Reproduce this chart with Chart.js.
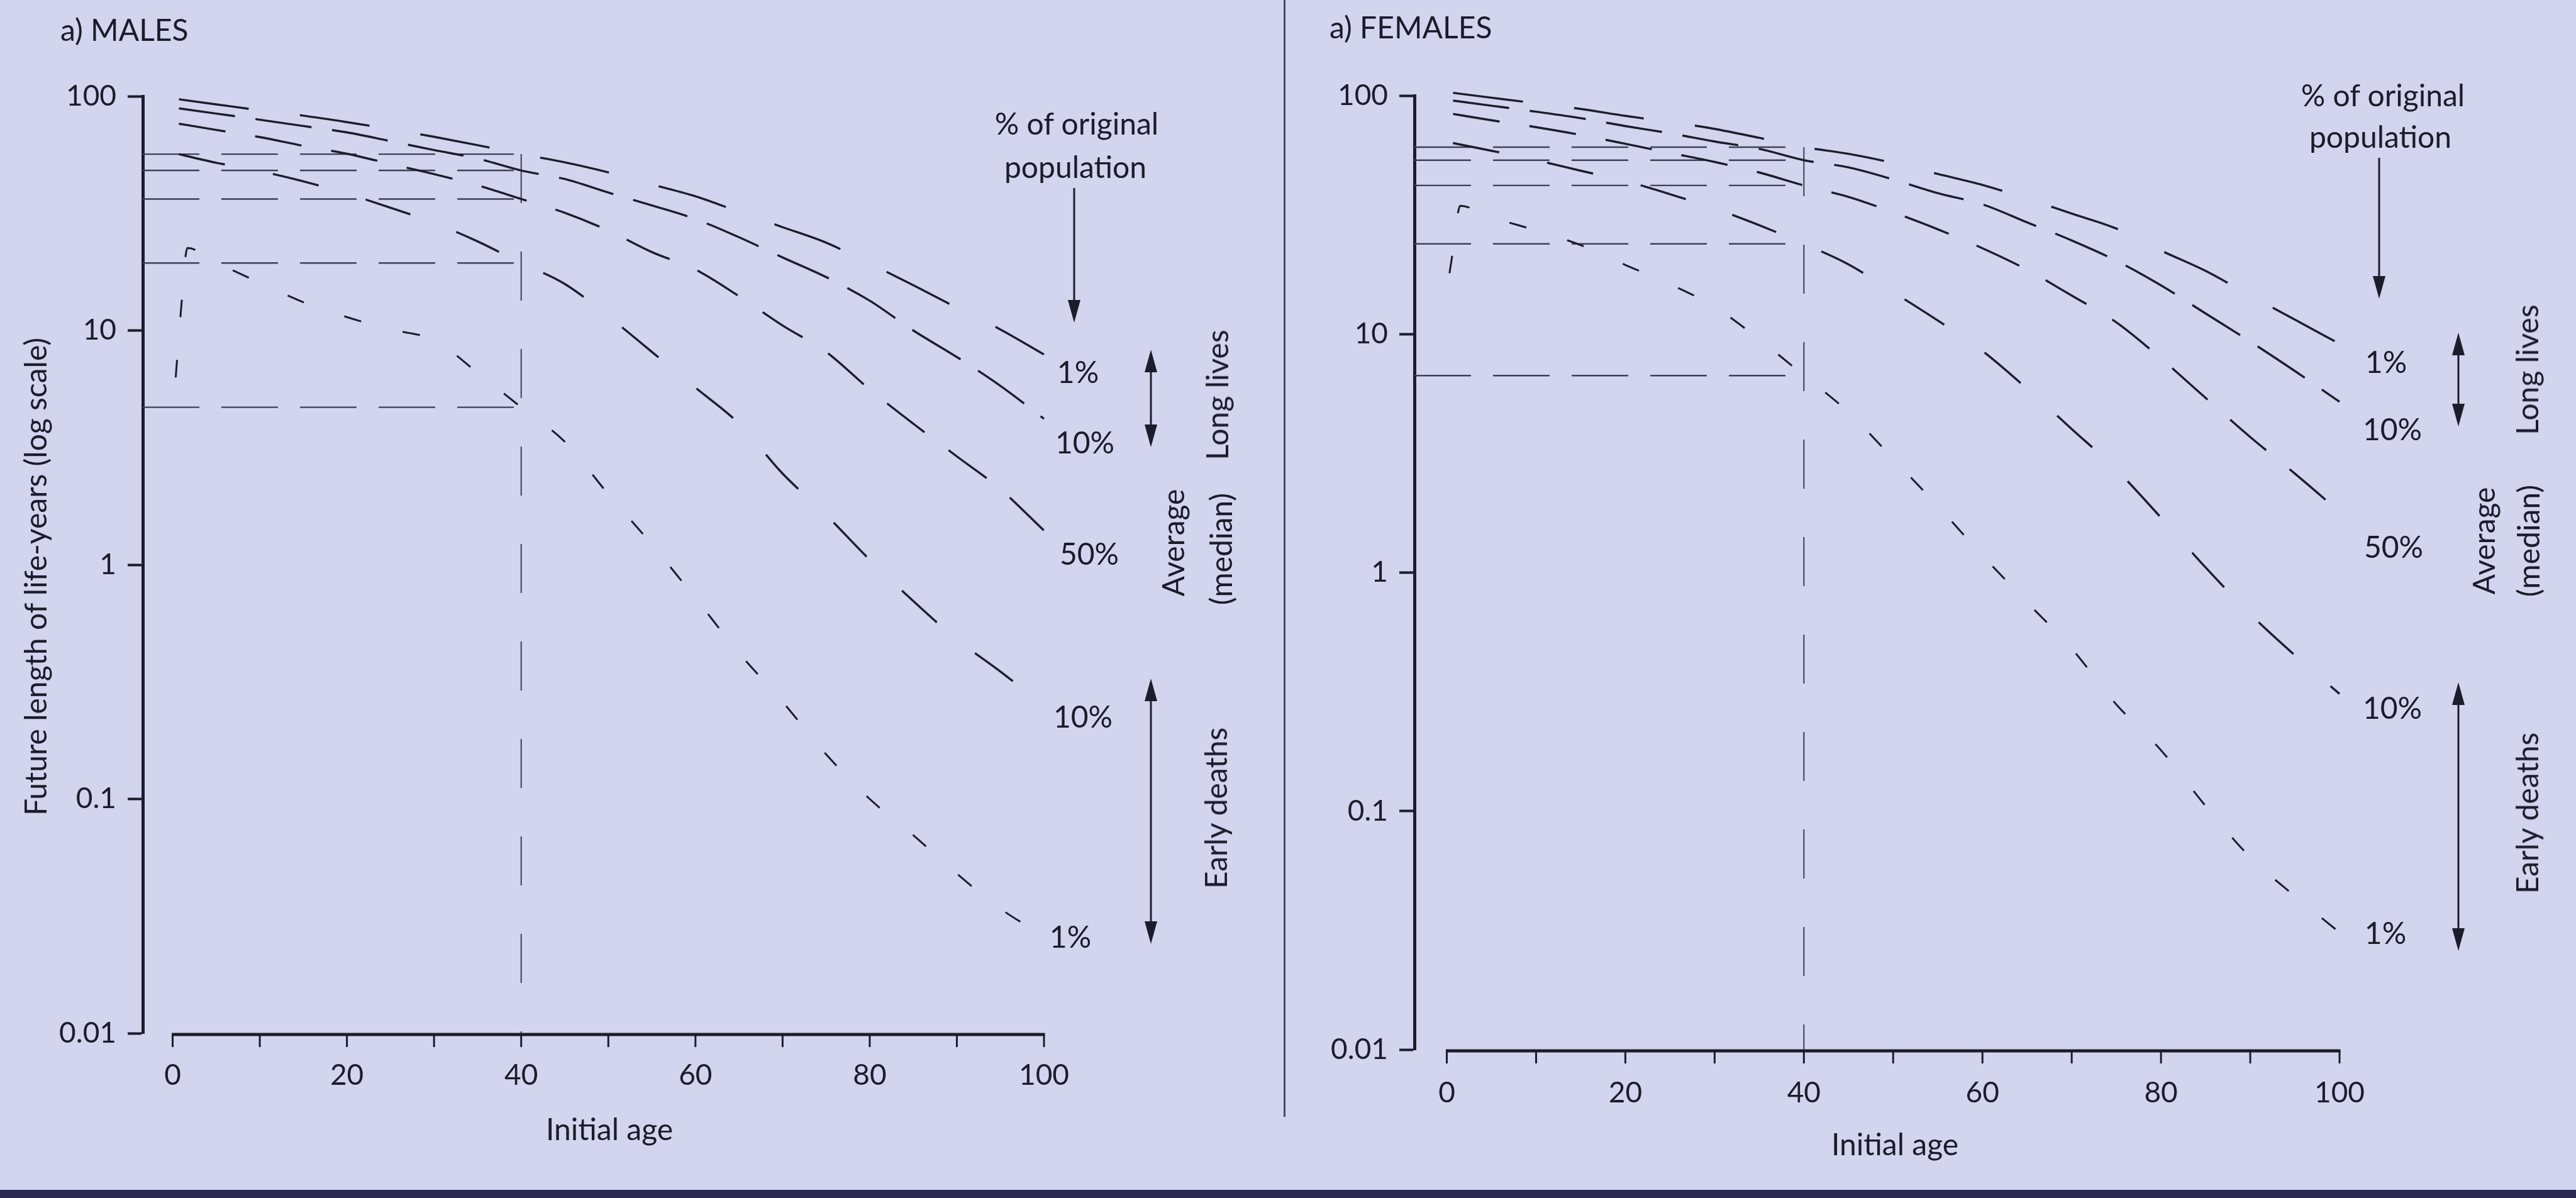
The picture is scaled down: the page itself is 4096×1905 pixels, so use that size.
<!DOCTYPE html>
<html>
<head>
<meta charset="utf-8">
<script src="https://cdn.jsdelivr.net/npm/chart.js@4.4.1/dist/chart.umd.min.js"></script>
<style>
  html, body { margin: 0; padding: 0; }
  body {
    width: 4096px; height: 1905px; position: relative; overflow: hidden;
    background: #d3d5ee; font-family: Lato, "Open Sans", sans-serif; color: #1b1b2a;
  }
  .panel { position: absolute; top: 0; height: 1905px; }
  #malesBox { left: 0; width: 2040px; }
  #femalesBox { left: 2040px; width: 2056px; }
  .note { position: absolute; font-size: 48px; line-height: 1; white-space: nowrap; transform: translate(-50%, -50%); }
  .note.left { transform: translate(0, -50%); }
  .note.rot { transform: translate(-50%, -50%) rotate(-90deg); }
  .divider { position: absolute; left: 2041px; top: 0; width: 3px; height: 1776px; background: #4a4a66; }
  .band { position: absolute; left: 0; top: 1892px; width: 4096px; height: 13px; background: #2e2b52; }
</style>
</head>
<body>
<div id="malesBox" class="panel"><canvas id="malesChart"></canvas></div>
<div id="femalesBox" class="panel"><canvas id="femalesChart"></canvas></div>
<div class="divider"></div>
<div class="band"></div>

<script>
// initial age, 5-year steps
const ages = [0, 5, 10, 15, 20, 25, 30, 35, 40, 45, 50, 55, 60, 65, 70, 75, 80, 85, 90, 95, 100];

// MALES - future life-years by percentile of original population
const malesLong1   = [97.8, 92.3, 87.1, 82.6, 77.5, 72.3, 67.1, 61.8, 56.6, 52.2, 47.3, 42.0, 37.4, 32.1, 27.6, 23.7, 19.3, 15.6, 12.5, 10.1, 7.9];
const malesLong10  = [89.5, 84.3, 79.4, 74.6, 70.1, 64.3, 58.9, 54.2, 48.2, 44.3, 38.8, 34.2, 29.9, 25.0, 20.5, 16.9, 13.4, 10.0, 7.7, 5.8, 4.2];
const malesMedian  = [77.1, 71.8, 66.9, 61.4, 56.8, 51.4, 46.5, 41.6, 36.4, 31.8, 26.7, 21.6, 18.2, 14.0, 10.5, 8.1, 5.6, 4.0, 2.9, 2.1, 1.4];
const malesEarly10 = [57.4, 52.0, 47.9, 43.3, 38.4, 33.4, 28.8, 24.0, 19.4, 15.8, 11.5, 8.1, 5.7, 4.0, 2.45, 1.63, 1.05, 0.70, 0.48, 0.35, 0.25];
const malesEarly1Ages = [0.35, 0.9, 1.7, 5, 10, 15, 20, 25, 30, 35, 40, 45, 50, 55, 60, 65, 70, 75, 80, 85, 90, 95, 100];
const malesEarly1  = [6.3, 11.5, 22.5, 19.5, 16.0, 13.2, 11.4, 10.1, 9.1, 6.6, 4.7, 3.35, 2.0, 1.22, 0.72, 0.42, 0.26, 0.155, 0.10, 0.07, 0.048, 0.034, 0.026];

// FEMALES
const femalesLong1   = [103.5, 98.0, 92.8, 87.9, 82.2, 77.5, 72.5, 66.5, 60.8, 57.0, 52.2, 46.9, 42.2, 37.0, 32.0, 27.7, 22.4, 18.4, 14.5, 11.5, 9.1];
const femalesLong10  = [96.0, 90.7, 85.6, 80.4, 74.5, 69.5, 64.2, 59.8, 53.6, 50.0, 44.5, 39.0, 35.0, 29.4, 24.7, 20.3, 16.0, 12.2, 9.3, 7.0, 5.2];
const femalesMedian  = [84.6, 78.8, 73.7, 68.4, 62.8, 57.5, 52.7, 47.6, 42.0, 37.6, 32.4, 27.5, 22.9, 18.6, 14.5, 11.2, 7.9, 5.4, 3.7, 2.6, 1.8];
const femalesEarly10 = [64.0, 58.7, 53.6, 48.4, 43.8, 38.6, 33.6, 28.6, 23.9, 19.6, 15.0, 11.4, 8.5, 5.9, 4.0, 2.7, 1.7, 1.05, 0.67, 0.45, 0.31];
const femalesEarly1Ages = [0.3, 0.7, 1.5, 5, 10, 15, 20, 25, 30, 35, 40, 45, 50, 55, 60, 65, 70, 75, 80, 85, 90, 95, 100];
const femalesEarly1  = [18, 22.5, 34.5, 30.9, 27.2, 23.6, 19.5, 16.2, 13.0, 9.5, 6.7, 4.7, 3.0, 1.9, 1.18, 0.75, 0.48, 0.28, 0.18, 0.105, 0.064, 0.044, 0.031];

const refAge = 40;
const xTicks = [0, 20, 40, 60, 80, 100];
const xMinorTicks = [0, 10, 20, 30, 40, 50, 60, 70, 80, 90, 100];
const yTicks = [0.01, 0.1, 1, 10, 100];
const pctLabels = ['1%', '10%', '50%', '10%', '1%'];

const INK = '#1c1c2c';
const REF = '#3e4058';
Chart.defaults.font.family = 'Lato, "Open Sans", sans-serif';
Chart.defaults.color = INK;

// dash style per curve, top to bottom
const curveStyles = [
  { dash: [112, 82], width: 3.4, offset: -10 },
  { dash: [90, 33], width: 3.4, offset: -10 },
  { dash: [75, 48], width: 3.4, offset: -10 },
  { dash: [75, 78], width: 3.4, offset: -10 },
  { dash: [28, 68], width: 3.0, offset: 0 }
];

function valueAt(xs, ys, a) {
  return ys[xs.indexOf(a)];
}

function drawArrow(ctx, x, y1, y2, both) {
  const hl = 36, hw = 10;
  ctx.lineWidth = 3;
  ctx.beginPath();
  ctx.moveTo(x, both ? y1 + hl - 4 : y1);
  ctx.lineTo(x, y2 - hl + 4);
  ctx.stroke();
  ctx.beginPath();
  ctx.moveTo(x, y2); ctx.lineTo(x - hw, y2 - hl); ctx.lineTo(x + hw, y2 - hl); ctx.closePath();
  ctx.fill();
  if (both) {
    ctx.beginPath();
    ctx.moveTo(x, y1); ctx.lineTo(x - hw, y1 + hl); ctx.lineTo(x + hw, y1 + hl); ctx.closePath();
    ctx.fill();
  }
}

const axisExtras = {
  id: 'axisExtras',
  afterDraw(chart, args, opts) {
    const { ctx, chartArea } = chart;
    const xs = chart.scales.x;
    const yb = chartArea.bottom + 2;
    ctx.save();
    ctx.strokeStyle = INK;
    ctx.fillStyle = INK;
    ctx.lineWidth = 5;
    ctx.beginPath();
    ctx.moveTo(xs.getPixelForValue(0) - 1.5, yb);
    ctx.lineTo(xs.getPixelForValue(100) + 1.5, yb);
    ctx.stroke();
    ctx.lineWidth = 3;
    xMinorTicks.forEach(v => {
      const px = xs.getPixelForValue(v);
      ctx.beginPath();
      ctx.moveTo(px, yb);
      ctx.lineTo(px, yb + 20);
      ctx.stroke();
    });
    (opts.arrows || []).forEach(a => drawArrow(ctx, a.x - opts.left, a.y1, a.y2, a.both));
    ctx.restore();
  }
};

function buildPanel(canvasId, p) {
  const datasets = [];
  p.series.forEach((s, i) => {
    const st = curveStyles[i];
    datasets.push({
      data: s.x.map((a, j) => ({ x: a, y: s.y[j] })),
      borderColor: INK, borderWidth: st.width, borderDash: st.dash, borderDashOffset: st.offset,
      cubicInterpolationMode: 'monotone', pointRadius: 0, clip: false
    });
  });
  // reference lines at age 40: horizontal back to the axis, vertical up to the top curve
  p.series.forEach(s => {
    const v = valueAt(s.x, s.y, refAge);
    datasets.push({
      data: [{ x: p.xMin, y: v }, { x: refAge, y: v }],
      borderColor: REF, borderWidth: 2.4, borderDash: [90, 35], pointRadius: 0, clip: false
    });
  });
  const top = valueAt(p.series[0].x, p.series[0].y, refAge);
  datasets.push({
    data: [{ x: refAge, y: top }, { x: refAge, y: 0.01 }],
    borderColor: REF, borderWidth: 2.0, borderDash: [78, 77], pointRadius: 0, clip: false
  });

  return new Chart(document.getElementById(canvasId), {
    type: 'line',
    data: { datasets },
    plugins: [axisExtras],
    options: {
      responsive: true,
      maintainAspectRatio: false,
      animation: false,
      events: [],
      layout: { padding: p.padding },
      plugins: {
        legend: { display: false },
        tooltip: { enabled: false },
        axisExtras: { arrows: p.arrows, left: p.left }
      },
      scales: {
        x: {
          type: 'linear', min: p.xMin, max: 100,
          grid: { display: false, drawTicks: false },
          border: { display: false },
          afterBuildTicks: sc => { sc.ticks = xTicks.map(v => ({ value: v })); },
          afterFit: sc => { sc.height = 120; },
          ticks: { autoSkip: false, maxRotation: 0, padding: p.xPad, font: { size: 46 }, color: INK }
        },
        y: {
          type: 'logarithmic', min: 0.01, max: 100,
          grid: { display: true, drawOnChartArea: false, drawTicks: true, tickLength: 24, tickWidth: 4, color: INK, tickColor: INK },
          border: { display: true, width: 5, color: INK },
          afterBuildTicks: sc => { sc.ticks = yTicks.map(v => ({ value: v })); },
          afterFit: sc => { sc.width = p.yWidth; },
          ticks: { autoSkip: false, padding: 18, font: { size: 46 }, color: INK, callback: v => String(v) }
        }
      }
    }
  });
}

buildPanel('malesChart', {
  left: 0,
  xMin: -3.43,
  yWidth: 227,
  xPad: 40,
  padding: { left: 0, top: 153, right: 380, bottom: 142 },
  series: [
    { x: ages, y: malesLong1 }, { x: ages, y: malesLong10 }, { x: ages, y: malesMedian },
    { x: ages, y: malesEarly10 }, { x: malesEarly1Ages, y: malesEarly1 }
  ],
  arrows: [
    { x: 1708, y1: 299, y2: 513, both: false },
    { x: 1830, y1: 556, y2: 711, both: true },
    { x: 1830, y1: 1079, y2: 1501, both: true }
  ]
});

buildPanel('femalesChart', {
  left: 2040,
  xMin: -3.63,
  yWidth: 209,
  xPad: 42,
  padding: { left: 0, top: 152, right: 376, bottom: 116 },
  series: [
    { x: ages, y: femalesLong1 }, { x: ages, y: femalesLong10 }, { x: ages, y: femalesMedian },
    { x: ages, y: femalesEarly10 }, { x: femalesEarly1Ages, y: femalesEarly1 }
  ],
  arrows: [
    { x: 3783, y1: 251, y2: 475, both: false },
    { x: 3909, y1: 529, y2: 678, both: true },
    { x: 3909, y1: 1085, y2: 1512, both: true }
  ]
});

// text annotations
function note(text, x, y, cls) {
  const d = document.createElement('div');
  d.className = 'note' + (cls ? ' ' + cls : '');
  d.textContent = text;
  d.style.left = x + 'px';
  d.style.top = y + 'px';
  document.body.appendChild(d);
}

note('a) MALES', 96, 47, 'left');
note('a) FEMALES', 2114, 43, 'left');
note('Future length of life-years (log scale)', 56, 917, 'rot');
note('Initial age', 969, 1795);
note('Initial age', 3013, 1819);

note('% of original', 1712, 196);
note('population', 1710, 265);
note('% of original', 3789, 151);
note('population', 3785, 217);

const malePctPos = [[1714, 591], [1725, 703], [1732, 880], [1722, 1139], [1702, 1489]];
const femalePctPos = [[3794, 575], [3804, 682], [3806, 869], [3804, 1125], [3793, 1483]];
pctLabels.forEach((t, i) => {
  note(t, malePctPos[i][0], malePctPos[i][1]);
  note(t, femalePctPos[i][0], femalePctPos[i][1]);
});

note('Long lives', 1935, 628, 'rot');
note('Average', 1865, 863, 'rot');
note('(median)', 1941, 873, 'rot');
note('Early deaths', 1933, 1285, 'rot');
note('Long lives', 4018, 588, 'rot');
note('Average', 3949, 860, 'rot');
note('(median)', 4020, 860, 'rot');
note('Early deaths', 4018, 1293, 'rot');
</script>
</body>
</html>
